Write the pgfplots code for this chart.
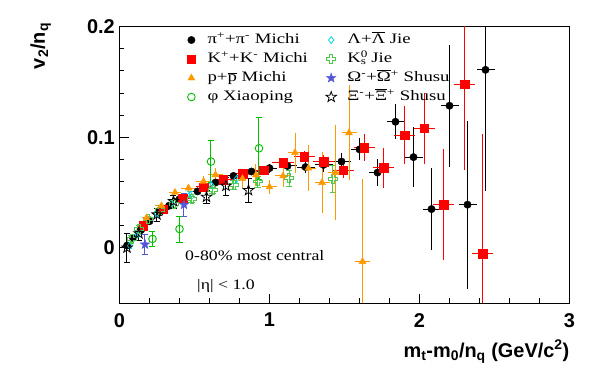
\documentclass[border=0pt]{standalone}
\usepackage{fontspec}
\setmainfont{Liberation Serif}
\setsansfont{Liberation Sans}
\usepackage{graphicx}
\usepackage{pgfplots}
\pgfplotsset{compat=1.18}
\definecolor{porange}{RGB}{255,153,0}
\definecolor{phigreen}{RGB}{0,190,0}
\definecolor{ksgreen}{RGB}{80,200,80}
\definecolor{lamcyan}{RGB}{0,215,225}
\definecolor{omblue}{RGB}{85,85,215}
\newcommand{\hs}[1]{\scalebox{1.3}[1]{#1}}
\newcommand{\htxt}[1]{\scalebox{1.23}[1]{#1}}
\pgfdeclareplotmark{ocross}{%
  \pgfpathmoveto{\pgfqpoint{-0.33\pgfplotmarksize}{\pgfplotmarksize}}%
  \pgfpathlineto{\pgfqpoint{0.33\pgfplotmarksize}{\pgfplotmarksize}}%
  \pgfpathlineto{\pgfqpoint{0.33\pgfplotmarksize}{0.33\pgfplotmarksize}}%
  \pgfpathlineto{\pgfqpoint{\pgfplotmarksize}{0.33\pgfplotmarksize}}%
  \pgfpathlineto{\pgfqpoint{\pgfplotmarksize}{-0.33\pgfplotmarksize}}%
  \pgfpathlineto{\pgfqpoint{0.33\pgfplotmarksize}{-0.33\pgfplotmarksize}}%
  \pgfpathlineto{\pgfqpoint{0.33\pgfplotmarksize}{-\pgfplotmarksize}}%
  \pgfpathlineto{\pgfqpoint{-0.33\pgfplotmarksize}{-\pgfplotmarksize}}%
  \pgfpathlineto{\pgfqpoint{-0.33\pgfplotmarksize}{-0.33\pgfplotmarksize}}%
  \pgfpathlineto{\pgfqpoint{-\pgfplotmarksize}{-0.33\pgfplotmarksize}}%
  \pgfpathlineto{\pgfqpoint{-\pgfplotmarksize}{0.33\pgfplotmarksize}}%
  \pgfpathlineto{\pgfqpoint{-0.33\pgfplotmarksize}{0.33\pgfplotmarksize}}%
  \pgfpathclose\pgfusepathqstroke}
\newcommand{\starpath}{%
  \pgfpathmoveto{\pgfqpointpolar{90}{\pgfplotmarksize}}%
  \pgfpathlineto{\pgfqpointpolar{126}{0.4\pgfplotmarksize}}%
  \pgfpathlineto{\pgfqpointpolar{162}{\pgfplotmarksize}}%
  \pgfpathlineto{\pgfqpointpolar{198}{0.4\pgfplotmarksize}}%
  \pgfpathlineto{\pgfqpointpolar{234}{\pgfplotmarksize}}%
  \pgfpathlineto{\pgfqpointpolar{270}{0.4\pgfplotmarksize}}%
  \pgfpathlineto{\pgfqpointpolar{306}{\pgfplotmarksize}}%
  \pgfpathlineto{\pgfqpointpolar{342}{0.4\pgfplotmarksize}}%
  \pgfpathlineto{\pgfqpointpolar{18}{\pgfplotmarksize}}%
  \pgfpathlineto{\pgfqpointpolar{54}{0.4\pgfplotmarksize}}%
  \pgfpathclose}
\pgfdeclareplotmark{ostar}{\starpath\pgfusepathqstroke}
\pgfdeclareplotmark{fstar}{\starpath\pgfusepathqfillstroke}
\begin{document}
\begin{tikzpicture}
\path[use as bounding box] (-119.5bp,-69bp) rectangle (476.5bp,303bp);
\begin{axis}[
  at={(0,0)}, anchor=south west,
  scale only axis, width=450bp, height=276.25bp,
  xmin=0, xmax=3, ymin=-0.05, ymax=0.2,
  xtick={0,1,2,3}, ytick={0,0.1,0.2},
  minor x tick num=4, minor y tick num=4,
  tick align=inside, tick pos=left,
  major tick length=9bp, minor tick length=5bp,
  axis line style={line width=0.9bp},
  every tick/.style={line width=0.9bp, black},
  /pgf/number format/assume math mode=true,
  xticklabel style={font=\sffamily\bfseries\fontsize{20}{20}\selectfont, inner sep=0pt, yshift=-10bp},
  yticklabel style={font=\sffamily\bfseries\fontsize{20}{20}\selectfont, inner sep=0pt, xshift=-4.5bp},
  yticklabel={\pgfmathprintnumber[fixed,precision=1]{\tick}},
  xlabel={m\textsubscript{t}-m\textsubscript{0}/n\textsubscript{q} (GeV/c\textsuperscript{2})},
  xlabel style={font=\sffamily\bfseries\fontsize{20}{24}\selectfont, at={(axis description cs:1,-0.1957)}, anchor=base east, inner sep=0pt},
  ylabel={v\textsubscript{2}/n\textsubscript{q}},
  ylabel style={font=\sffamily\bfseries\fontsize{20}{24}\selectfont, at={(axis description cs:-0.1656,1.0145)}, anchor=base east, inner sep=0pt},
  legend columns=2,
  legend cell align=left,
  legend image code/.code={\path (0bp,0bp) (18bp,0bp); \draw[#1] plot coordinates {(5bp,0bp)};},
  legend style={draw=none, fill=none, inner sep=0pt, at={(axis description cs:0.1478,0.978)}, anchor=north west,
    font=\fontsize{14.5}{16}\selectfont,
    nodes={inner ysep=0.5bp, inner xsep=3bp, text height=10bp, text depth=3bp},
    row sep=5bp,
    /tikz/every even column/.append style={column sep=15bp}},
  error bars/error bar style={line width=1bp},
]
% pion
\addplot[black, only marks, mark=*, mark size=3.7bp, mark options={fill=black},
  error bars/.cd, x dir=both, x explicit, y dir=both, y explicit, error mark=none]
  table[x=x, y=y, x error=ex, y error=ey] {
x y ex ey
0.05 0.002 0.02 0.002
0.09 0.009 0.02 0.002
0.14 0.016 0.02 0.002
0.20 0.024 0.02 0.002
0.27 0.032 0.03 0.002
0.33 0.038 0.03 0.002
0.40 0.044 0.03 0.002
0.52 0.051 0.04 0.002
0.64 0.059 0.04 0.002
0.76 0.065 0.05 0.003
0.88 0.069 0.05 0.003
1.00 0.072 0.05 0.004
1.12 0.074 0.06 0.004
1.24 0.073 0.06 0.005
1.36 0.075 0.06 0.006
1.48 0.078 0.06 0.008
1.60 0.089 0.06 0.010
1.72 0.068 0.06 0.012
1.84 0.114 0.06 0.016
1.96 0.082 0.06 0.027
2.08 0.035 0.06 0.037
2.20 0.1285 0.06 0.055
2.32 0.039 0.06 0.076
2.44 0.161 0.06 0.110
};
\addlegendentry{\hs{π\textsuperscript{+}+π\textsuperscript{-} Michi}}
% Lambda
\addplot[lamcyan, only marks, mark=diamond, mark size=3.5bp, mark options={line width=0.8bp},
  error bars/.cd, y dir=both, y explicit, error mark options={rotate=90, mark size=2.5bp}]
  table[x=x, y=y, y error=ey] {
x y ey
0.07 0.002 0.002
0.12 0.012 0.002
0.17 0.022 0.002
0.25 0.031 0.002
0.35 0.040 0.003
0.47 0.048 0.003
0.61 0.057 0.003
0.78 0.062 0.004
};
\addlegendentry{\hs{Λ+$\overline{\mbox{Λ}}$ Jie}}
% kaon
\addplot[red, only marks, mark=square*, mark size=4.2bp, mark options={fill=red},
  error bars/.cd, x dir=both, x explicit, y dir=both, y explicit, error mark=none]
  table[x=x, y=y, x error=ex, y error=ey] {
x y ex ey
0.16 0.020 0.03 0.002
0.29 0.035 0.04 0.002
0.42 0.045 0.05 0.002
0.56 0.055 0.05 0.003
0.69 0.0615 0.06 0.003
0.82 0.067 0.06 0.003
0.96 0.070 0.06 0.004
1.09 0.077 0.07 0.004
1.23 0.0825 0.07 0.005
1.36 0.078 0.07 0.006
1.49 0.070 0.07 0.007
1.63 0.0905 0.07 0.012
1.76 0.0725 0.07 0.018
1.90 0.102 0.07 0.026
2.03 0.108 0.07 0.032
2.16 0.039 0.07 0.050
2.30 0.148 0.07 0.078
2.42 -0.0055 0.07 0.108
};
\addlegendentry{\hs{K\textsuperscript{+}+K\textsuperscript{-} Michi}}
% Ks
\addplot[ksgreen, only marks, mark=ocross, mark size=4.5bp, mark options={line width=0.9bp},
  error bars/.cd, y dir=both, y explicit, error mark options={rotate=90, mark size=3bp}]
  table[x=x, y=y, y error=ey] {
x y ey
0.08 0.008 0.003
0.13 0.017 0.003
0.19 0.026 0.003
0.27 0.034 0.003
0.36 0.040 0.003
0.48 0.044 0.003
0.62 0.052 0.003
0.76 0.057 0.004
0.92 0.060 0.005
1.13 0.063 0.007
1.42 0.0625 0.012
};
\addlegendentry{\hs{K\rlap{\textsuperscript{0}}\textsubscript{s} Jie}}
% proton
\addplot[porange, only marks, mark=triangle*, mark size=4bp, mark options={fill=porange},
  error bars/.cd, x dir=both, x explicit, y dir=both, y explicit, error mark=none]
  table[x=x, y=y, x error=ex, y error=ey] {
x y ex ey
0.18 0.027 0.03 0.002
0.28 0.038 0.04 0.003
0.37 0.050 0.04 0.003
0.46 0.054 0.05 0.004
0.56 0.060 0.05 0.005
0.64 0.066 0.05 0.006
0.82 0.0625 0.05 0.008
0.91 0.066 0.05 0.010
1.00 0.055 0.05 0.006
1.09 0.065 0.05 0.010
1.17 0.086 0.05 0.018
1.26 0.072 0.05 0.021
1.35 0.059 0.05 0.028
1.44 0.068 0.05 0.043
1.53 0.104 0.05 0.043
1.62 -0.0125 0.05 0.075
};
\addlegendentry{\hs{p+$\overline{\mbox{p}}$ Michi}}
% Omega
\addplot[omblue, only marks, mark=fstar, mark size=5bp, mark options={fill=omblue},
  error bars/.cd, y dir=both, y explicit, error mark options={rotate=90, mark size=3bp}]
  table[x=x, y=y, y error=ey] {
x y ey
0.17 0.003 0.009
0.43 0.039 0.010
};
\addlegendentry{\hs{Ω\textsuperscript{-}+$\overline{\mbox{Ω}}$\textsuperscript{+} Shusu}}
% phi
\addplot[phigreen, only marks, mark=o, mark size=3.8bp, mark options={line width=0.9bp},
  error bars/.cd, y dir=both, y explicit, error mark options={rotate=90, mark size=3bp}]
  table[x=x, y=y, y error=ey] {
x y ey
0.22 0.008 0.007
0.40 0.017 0.012
0.61 0.078 0.019
0.93 0.090 0.028
};
\addlegendentry{\hs{φ Xiaoping}}
% Xi
\addplot[black, only marks, mark=ostar, mark size=5.5bp, mark options={line width=0.8bp},
  error bars/.cd, y dir=both, y explicit, error mark options={rotate=90, mark size=3bp}]
  table[x=x, y=y, y error=ey] {
x y ey
0.05 0.000 0.013
0.13 0.013 0.006
0.25 0.030 0.006
0.36 0.042 0.006
0.58 0.046 0.006
0.71 0.056 0.008
0.86 0.052 0.011
};
\addlegendentry{\hs{Ξ\textsuperscript{-}+$\overline{\mbox{Ξ}}$\textsuperscript{+} Shusu}}
\node[anchor=base west, inner sep=0pt, font=\fontsize{14.5}{16}\selectfont] at (axis cs:0.437,-0.0118) {\htxt{0-80\% most central}};
\node[anchor=base west, inner sep=0pt, font=\fontsize{14.5}{16}\selectfont] at (axis cs:0.517,-0.038) {\htxt{|η| < 1.0}};
\end{axis}
\end{tikzpicture}
\end{document}
